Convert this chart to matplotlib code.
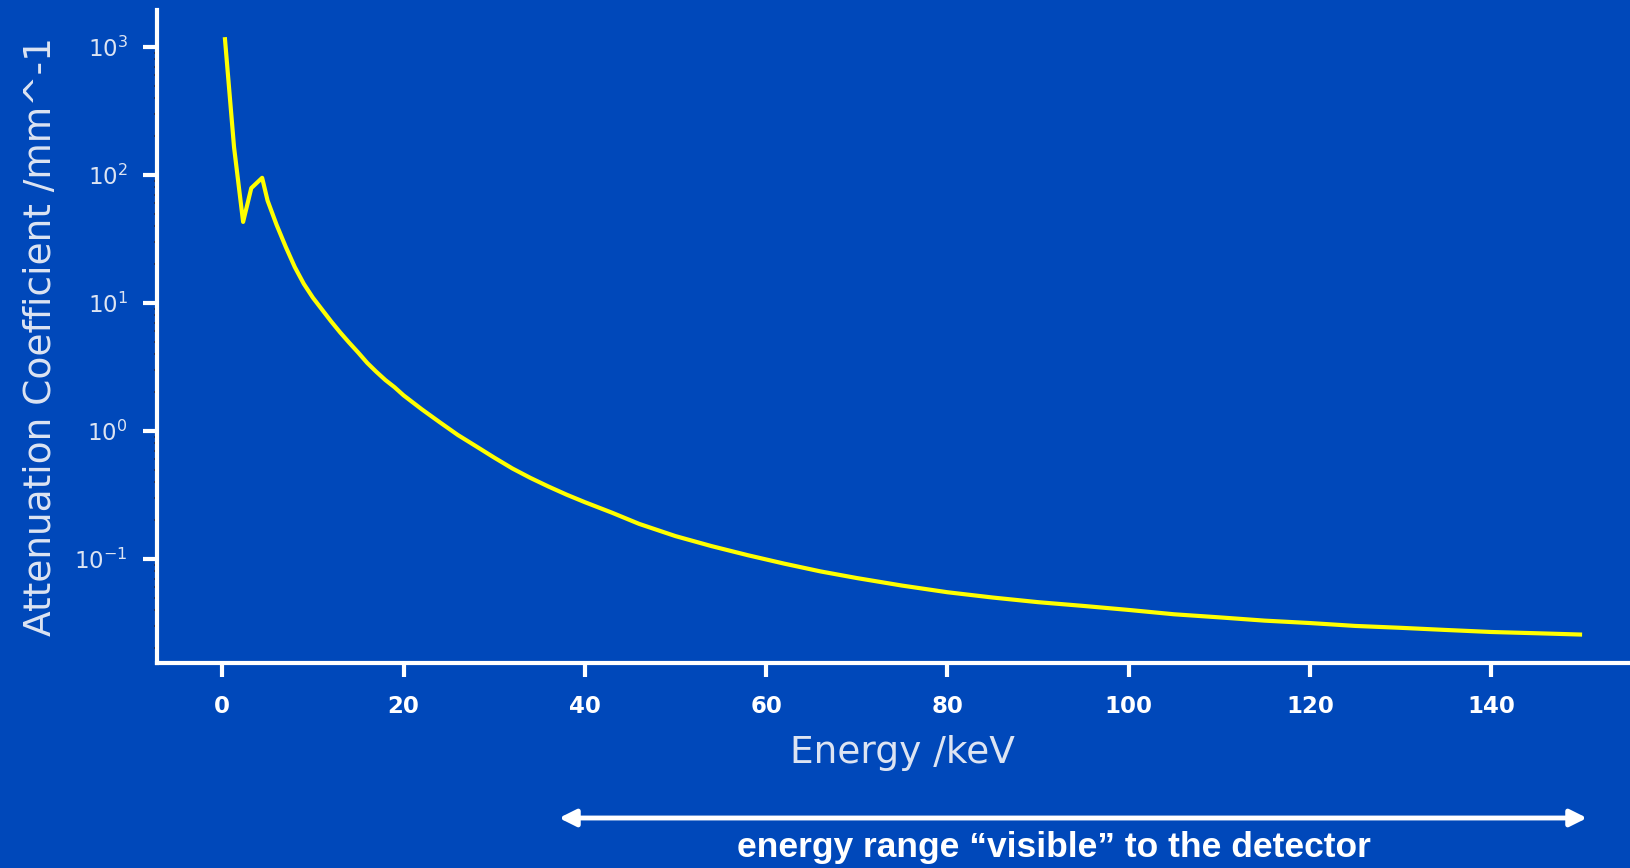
import matplotlib.pyplot as plt

# values (energy in keV, attenuation in mm^-1)
energy = [0.3, 1.3, 2.3, 3.2, 4.4, 5.0, 6.0, 7.0, 8.0, 9.0, 10.0, 11.0, 12.0,
          13.0, 14.0, 15.0, 16.0, 17.0, 18.0, 19.0, 20.0, 22.0, 24.0, 26.0,
          28.0, 30.0, 32.0, 34.0, 36.0, 38.0, 40.0, 43.0, 46.0, 50.0, 54.0,
          58.0, 62.0, 66.0, 70.0, 75.0, 80.0, 85.0, 90.0, 95.0, 100.0, 105.0,
          110.0, 115.0, 120.0, 125.0, 130.0, 135.0, 140.0, 145.0, 149.8]
mu = [1150, 165, 43, 79, 95, 63.1, 40.7, 27.5, 19.1, 14.1, 11.0, 8.9, 7.2,
      5.9, 4.9, 4.1, 3.4, 2.9, 2.5, 2.2, 1.9, 1.48, 1.17, 0.93,
      0.76, 0.62, 0.51, 0.43, 0.368, 0.318, 0.278, 0.230, 0.188, 0.151, 0.126,
      0.107, 0.092, 0.080, 0.071, 0.062, 0.055, 0.050, 0.046, 0.043, 0.040, 0.037,
      0.035, 0.033, 0.0316, 0.030, 0.029, 0.0279, 0.0269, 0.0263, 0.0257]
xticks = [0, 20, 40, 60, 80, 100, 120, 140]

bg = '#0048BA'
light = '#dde4f2'

fig = plt.figure(figsize=(16.3, 8.68), dpi=100, facecolor=bg)
ax = fig.add_axes([157/1630, 205/868, (1648-157)/1630, (663-10)/868])
ax.set_facecolor(bg)

ax.plot(energy, mu, color='#FFFF00', lw=3)
ax.set_yscale('log')
ax.set_xlim(-7.2, 157.3)
ax.set_ylim(10**-1.8125, 10**3.289)
ax.set_xticks(xticks)

for s in ['top', 'right']:
    ax.spines[s].set_visible(False)
for s in ['left', 'bottom']:
    ax.spines[s].set_color('white')
    ax.spines[s].set_linewidth(3)

ax.tick_params(axis='both', which='major', direction='out', length=10,
               width=3, color='white')
ax.tick_params(axis='y', which='major', labelsize=16.5, labelcolor=light, pad=11)
ax.tick_params(axis='x', which='major', labelsize=16.5, labelcolor='white', pad=13)
ax.tick_params(axis='y', which='minor', length=2, width=1.5, color='#14204a')
for lab in ax.get_xticklabels():
    lab.set_fontweight('bold')

ax.set_xlabel('Energy /keV', fontsize=27, color=light, labelpad=12)
ax.set_ylabel('Attenuation Coefficient /mm^-1', fontsize=27, color=light, labelpad=11)

# detector range annotation
ax.annotate('', xy=(1587/1630, 50/868), xytext=(559/1630, 50/868),
            xycoords='figure fraction', textcoords='figure fraction',
            arrowprops=dict(arrowstyle='<|-|>', color='white', lw=3.5,
                            mutation_scale=25, shrinkA=0, shrinkB=0))
fig.text(1054/1630, 21/868, 'energy range \u201cvisible\u201d to the detector',
         ha='center', va='center', fontsize=25.5, fontweight='bold',
         color='white', family='Liberation Sans')

plt.savefig('out.png', dpi=100, facecolor=bg)
